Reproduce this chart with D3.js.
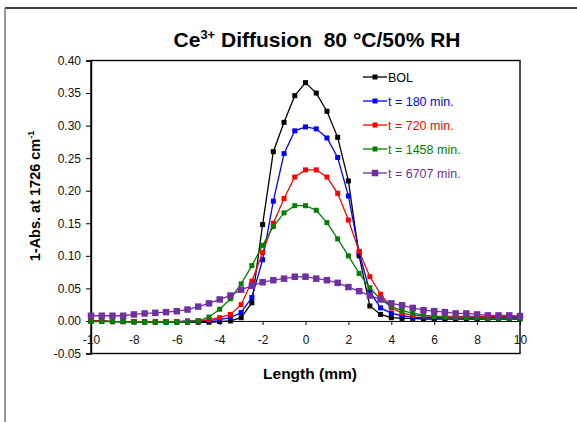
<!DOCTYPE html>
<html>
<head>
<meta charset="utf-8">
<script src="https://cdn.jsdelivr.net/npm/d3@7"></script>
<style>
  html, body { margin: 0; padding: 0; background: #fff; }
  svg { display: block; font-family: "Liberation Sans", Arial, sans-serif; }
</style>
</head>
<body>
<svg id="chart" width="577" height="422"></svg>
<script>
// Position along the membrane (mm)
const lengths = [-10, -9.5, -9, -8.5, -8, -7.5, -7, -6.5, -6, -5.5, -5, -4.5, -4, -3.5, -3, -2.5, -2, -1.5, -1, -0.5,
  0, 0.5, 1, 1.5, 2, 2.5, 3, 3.5, 4, 4.5, 5, 5.5, 6, 6.5, 7, 7.5, 8, 8.5, 9, 9.5, 10];

// 1-Abs. at 1726 cm-1 for each exposure time
const bol = [0.000, 0.000, -0.001, -0.001, -0.001, -0.002, -0.002, -0.002, -0.002, -0.002, -0.002, -0.002, -0.001, 0.000, 0.005, 0.028, 0.148, 0.260, 0.305, 0.346,
  0.366, 0.350, 0.322, 0.282, 0.215, 0.100, 0.023, 0.010, 0.005, 0.004, 0.004, 0.003, 0.003, 0.003, 0.003, 0.003, 0.003, 0.003, 0.003, 0.003, 0.003];
const t180 = [0.000, 0.000, -0.001, -0.001, -0.001, -0.001, -0.001, -0.001, -0.001, 0.000, 0.000, 0.001, 0.002, 0.005, 0.013, 0.036, 0.094, 0.184, 0.257, 0.292,
  0.298, 0.295, 0.281, 0.251, 0.192, 0.105, 0.045, 0.020, 0.012, 0.008, 0.006, 0.005, 0.005, 0.005, 0.005, 0.005, 0.005, 0.005, 0.005, 0.005, 0.005];
const t720 = [0.000, 0.000, -0.001, -0.001, -0.001, -0.001, -0.001, -0.001, -0.001, -0.001, 0.000, 0.002, 0.005, 0.010, 0.025, 0.061, 0.105, 0.150, 0.188, 0.221,
  0.232, 0.232, 0.221, 0.196, 0.155, 0.107, 0.068, 0.041, 0.020, 0.012, 0.009, 0.008, 0.007, 0.007, 0.007, 0.007, 0.007, 0.007, 0.007, 0.007, 0.007];
const t1458 = [-0.001, -0.001, -0.001, -0.001, -0.002, -0.002, -0.002, -0.002, -0.002, -0.002, 0.000, 0.006, 0.018, 0.034, 0.057, 0.085, 0.116, 0.145, 0.166, 0.177,
  0.177, 0.170, 0.151, 0.126, 0.100, 0.073, 0.051, 0.033, 0.022, 0.016, 0.012, 0.009, 0.007, 0.006, 0.005, 0.005, 0.005, 0.004, 0.004, 0.004, 0.004];
const t6707 = [0.008, 0.008, 0.008, 0.008, 0.010, 0.0115, 0.0125, 0.0135, 0.015, 0.0175, 0.022, 0.027, 0.033, 0.039, 0.048, 0.054, 0.0595, 0.0626, 0.065, 0.0678,
  0.068, 0.065, 0.0626, 0.0585, 0.052, 0.0457, 0.039, 0.033, 0.027, 0.024, 0.020, 0.0166, 0.015, 0.0135, 0.0115, 0.0115, 0.010, 0.0085, 0.0085, 0.0085, 0.0075];

const seriesNames = ["BOL", "t = 180 min.", "t = 720 min.", "t = 1458 min.", "t = 6707 min."];
const seriesValues = [bol, t180, t720, t1458, t6707];
const seriesColors = ["#000000", "#0000ff", "#ff0000", "#008000", "#7030a0"];

const xTicks = [-10, -8, -6, -4, -2, 0, 2, 4, 6, 8, 10];
const yTicks = [-0.05, 0, 0.05, 0.10, 0.15, 0.20, 0.25, 0.30, 0.35, 0.40];

const svg = d3.select("#chart");

// Outer frame (top and left edges)
svg.append("line").attr("x1", 5).attr("x2", 577).attr("y1", 8).attr("y2", 8)
  .attr("stroke", "#444").attr("stroke-width", 2);
svg.append("line").attr("x1", 5).attr("x2", 5).attr("y1", 8).attr("y2", 422)
  .attr("stroke", "#777").attr("stroke-width", 1.5);

const x = d3.scaleLinear().domain([-10, 10]).range([91, 520]);
const y = d3.scaleLinear().domain([-0.05, 0.40]).range([353.5, 60.5]);

// Plot area box
svg.append("rect")
  .attr("x", x(-10)).attr("y", y(0.40))
  .attr("width", x(10) - x(-10)).attr("height", y(-0.05) - y(0.40))
  .attr("fill", "none").attr("stroke", "#000").attr("stroke-width", 1.4);

// Y axis
const yAxis = svg.append("g").attr("transform", `translate(${x(-10)},0)`)
  .call(d3.axisLeft(y).tickValues(yTicks).tickFormat(d => d.toFixed(2)).tickSize(5).tickPadding(5));
yAxis.select(".domain").attr("stroke", "#000").attr("stroke-width", 1.4);
yAxis.selectAll(".tick line").attr("stroke", "#000");
yAxis.selectAll(".tick text").attr("font-size", 12).attr("fill", "#111")
  .attr("font-family", "Liberation Sans, Arial, sans-serif");

// X axis crossing at zero
const xAxis = svg.append("g").attr("transform", `translate(0,${y(0)})`)
  .call(d3.axisBottom(x).tickValues(xTicks).tickFormat(d => String(d)).tickSize(4).tickPadding(11));
xAxis.select(".domain").attr("stroke", "#000").attr("stroke-width", 1);
xAxis.selectAll(".tick line").attr("stroke", "#000");
xAxis.selectAll(".tick text").attr("font-size", 12).attr("fill", "#111")
  .attr("font-family", "Liberation Sans, Arial, sans-serif");

// Series lines and markers
const line = d3.line().x((d, i) => x(lengths[i])).y(d => y(d));
seriesValues.forEach((vals, s) => {
  const g = svg.append("g");
  g.append("path").datum(vals).attr("d", line)
    .attr("fill", "none").attr("stroke", seriesColors[s]).attr("stroke-width", 1.3);
  const m = s === 4 ? 6.5 : 5;
  g.selectAll("rect").data(vals).join("rect")
    .attr("x", (d, i) => x(lengths[i]) - m / 2)
    .attr("y", d => y(d) - m / 2)
    .attr("width", m).attr("height", m)
    .attr("fill", seriesColors[s]);
});

// Legend
const legend = svg.append("g");
seriesNames.forEach((name, s) => {
  const ly = 77 + s * 24;
  legend.append("line").attr("x1", 363).attr("x2", 387).attr("y1", ly).attr("y2", ly)
    .attr("stroke", seriesColors[s]).attr("stroke-width", 1.3);
  const m = s === 4 ? 6.5 : 5;
  legend.append("rect").attr("x", 375 - m / 2).attr("y", ly - m / 2)
    .attr("width", m).attr("height", m).attr("fill", seriesColors[s]);
  legend.append("text").attr("x", 388).attr("y", ly + 4.5)
    .attr("font-size", 12.5).attr("fill", seriesColors[s]).text(name);
});

// Title
const title = svg.append("text").attr("x", 317).attr("y", 47)
  .attr("text-anchor", "middle").attr("font-size", 21).attr("font-weight", "bold")
  .style("white-space", "pre");
title.append("tspan").text("Ce");
title.append("tspan").attr("font-size", 13).attr("dy", -8).text("3+");
title.append("tspan").attr("dy", 8).text(" Diffusion  80 °C/50% RH");

// Axis titles
svg.append("text").attr("x", 310).attr("y", 379).attr("text-anchor", "middle")
  .attr("font-size", 15.5).attr("font-weight", "bold").text("Length (mm)");

const yt = svg.append("text").attr("transform", "translate(40,196) rotate(-90)")
  .attr("text-anchor", "middle").attr("font-size", 14.5).attr("font-weight", "bold");
yt.append("tspan").text("1-Abs. at 1726 cm");
yt.append("tspan").attr("font-size", 9).attr("dy", -6).text("-1");
</script>
</body>
</html>
